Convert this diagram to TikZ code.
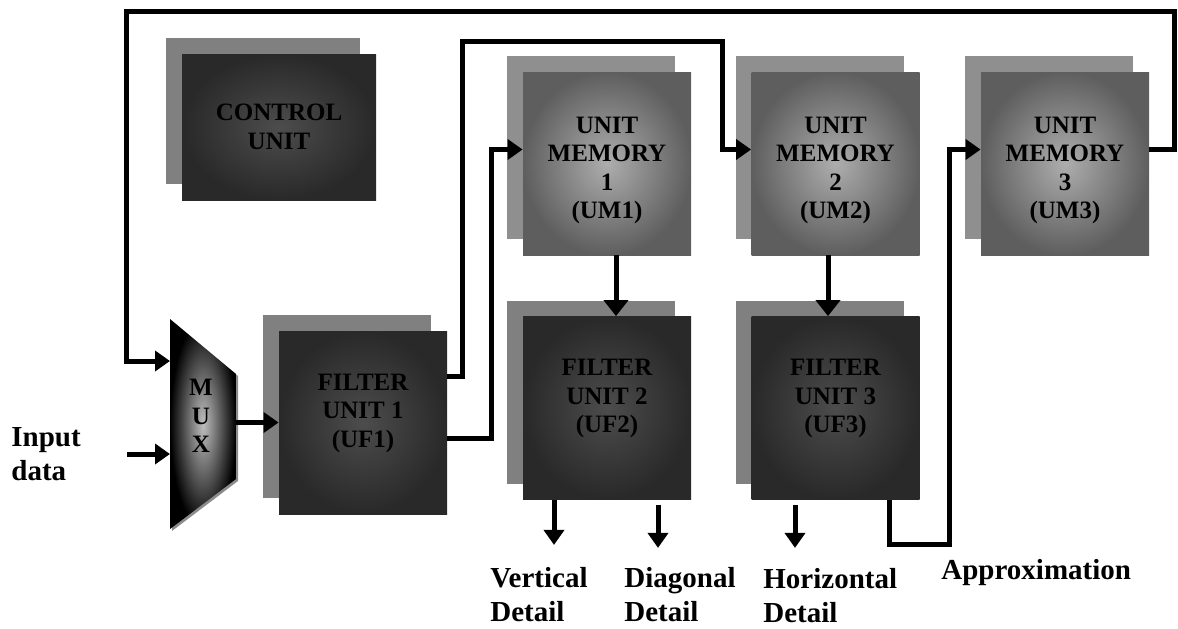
\documentclass[tikz,border=0pt]{standalone}
\usepackage{fontspec}
\setmainfont{Liberation Serif}
\usetikzlibrary{arrows.meta,shadows}

\begin{document}
\begin{tikzpicture}[x=0.5pt, y=-0.5pt,
		wire/.style={line width=2.5pt},
		tip/.style={-{Triangle[length=7.5pt,width=10pt]}},
		boxfont/.style={font=\fontsize{12.5}{14.25}\selectfont\bfseries},
		unit/.style={boxfont, align=center, inner sep=0pt, minimum width=84pt, minimum height=91.5pt,
			drop shadow={shadow xshift=-8pt, shadow yshift=8pt, opacity=1, fill=#1}},
		filterbox/.style={unit=black!50, inner color=black!70, outer color=black!84, text depth=12pt},
		memorybox/.style={unit=black!44, inner color=black!32, outer color=black!63, text height=58pt},
		outlabel/.style={font=\fontsize{14.5}{17}\selectfont\bfseries, align=left, inner sep=0pt, anchor=north west}]
	\useasboundingbox (0,0) rectangle (1178,628);

	\node[unit=black!50, inner color=black!70, outer color=black!84, minimum width=97pt, minimum height=73pt] (cu) at (279,127) {CONTROL\\UNIT};

	\node[memorybox] (um1) at (607,163.5) {UNIT\\MEMORY\\1\\(UM1)};
	\node[memorybox] (um2) at (835.5,163.5) {UNIT\\MEMORY\\2\\(UM2)};
	\node[memorybox] (um3) at (1065,163.5) {UNIT\\MEMORY\\3\\(UM3)};

	\node[filterbox] (uf1) at (363,422.5) {FILTER\\UNIT 1\\(UF1)};
	\node[filterbox] (uf2) at (607,408) {FILTER\\UNIT 2\\(UF2)};
	\node[filterbox] (uf3) at (835.5,408) {FILTER\\UNIT 3\\(UF3)};

	\fill[black!45] (172,321) -- (238,376) -- (238,481) -- (172,531) -- cycle;
	\shade[inner color=black!25, outer color=black] (170,319) -- (236,374) -- (236,479) -- (170,529) -- cycle;
	\node[boxfont, align=center, inner sep=0pt] (mux) at (201,416) {M\\U\\X};
	\coordinate (muxin1) at (170,361);
	\coordinate (muxin2) at (170,454);
	\coordinate (muxout) at (236,422.5);
	\coordinate (src) at (127,454);
	\coordinate (fbr) at (1174,11);
	\coordinate (fbl) at (126,11);
	\coordinate (bend) at (462,41);
	\coordinate (apx) at (949,544);

	\node[outlabel] (input) at (11,427) {Input\\data};
	\node[outlabel] (vd) at (490,567) {Vertical\\Detail};
	\node[outlabel] (dd) at (624,567) {Diagonal\\Detail};
	\node[outlabel] (hd) at (763,568) {Horizontal\\Detail};
	\node[outlabel] (approx) at (941,559) {Approximation};

	\draw[wire, tip] (src) -- (muxin2);
	\draw[wire, tip] (muxout) -- (uf1.west);
	\draw[wire, tip] ([yshift=7pt]um3.east) -| (fbr) -- (fbl) |- (muxin1);
	\draw[wire, tip] ([yshift=23pt]uf1.east) -| (bend) -| ([xshift=-14.5pt,yshift=7pt]um2.west) -- ([yshift=7pt]um2.west);
	\draw[wire, tip] ([yshift=-8pt]uf1.east) -| ([xshift=-15.5pt,yshift=7pt]um1.west) -- ([yshift=7pt]um1.west);
	\draw[wire, -{Triangle[length=8pt,width=12pt]}] ([xshift=4.5pt]um1.south) -- ([xshift=4.5pt]uf2.north);
	\draw[wire, -{Triangle[length=8pt,width=12pt]}] ([xshift=-3.75pt]um2.south) -- ([xshift=-3.75pt]uf3.north);
	\draw[wire, tip] ([xshift=-26.5pt]uf2.south) -- ++(0,45);
	\draw[wire, tip] ([xshift=25.5pt,yshift=-2.5pt]uf2.south) -- ++(0,43);
	\draw[wire, tip] ([xshift=-20.25pt,yshift=-2.5pt]uf3.south) -- ++(0,43);
	\draw[wire, tip] ([xshift=26.75pt]uf3.south) |- (apx) |- ([yshift=7pt]um3.west);
\end{tikzpicture}
\end{document}
